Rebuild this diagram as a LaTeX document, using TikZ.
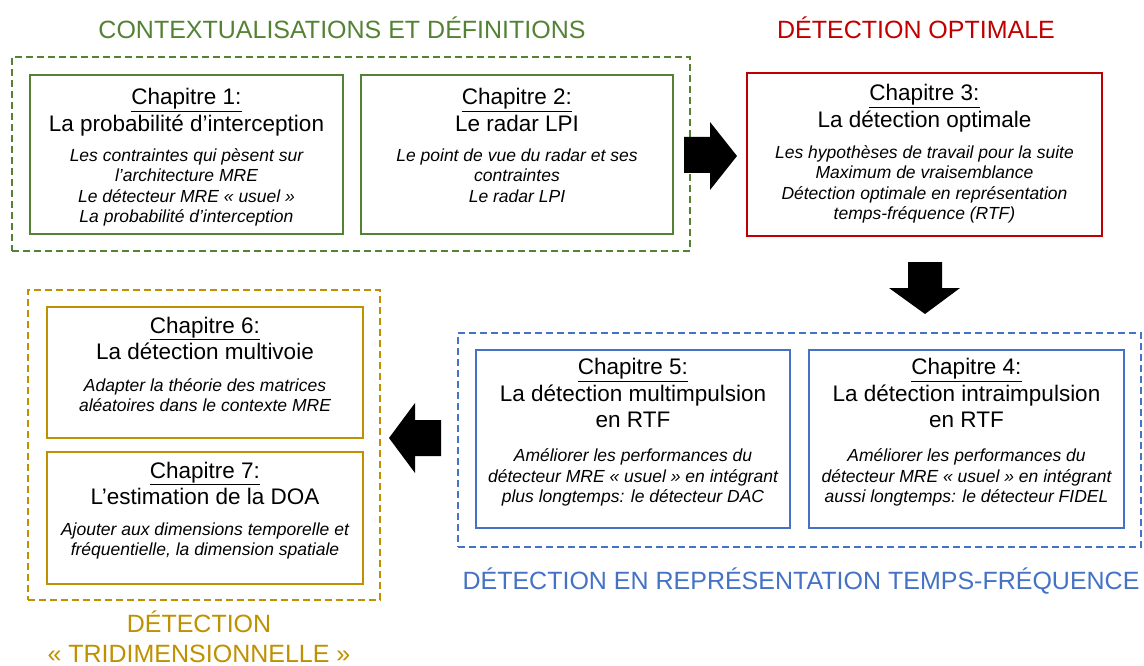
\documentclass[tikz,border=0pt]{standalone}
\usepackage{fontspec}
\setmainfont{Liberation Sans}
\definecolor{cgreen}{HTML}{548235}
\definecolor{cred}{HTML}{C00000}
\definecolor{cblue}{HTML}{4472C4}
\definecolor{cgold}{HTML}{BF9000}
\newcommand\mychap[4][13.5pt]{\centering\spaceskip=0pt\xspaceskip=0pt\fontsize{22.5}{26.5}\selectfont\underline{#2}\par #3\par\vspace{#1}\fontsize{17.5}{20.5}\selectfont\itshape #4\par}
\begin{document}
\begin{tikzpicture}[x=1pt,y=-1pt,
  chbox/.style={draw=#1, line width=2.6pt, rectangle, inner sep=0pt},
  grp/.style={draw=#1, line width=2.2pt, dash pattern=on 7pt off 4pt, rectangle, inner sep=0pt},
  txt/.style={align=center, inner sep=0pt, anchor=north},
  gtitle/.style={text=#1, inner sep=0pt, font=\fontsize{25}{30}\selectfont, align=center},
  blockarrow/.style={fill=black}]
\useasboundingbox (0,0) rectangle (1144,666);

% group frames
\node[grp=cgreen, minimum width=678pt, minimum height=194pt] (g1) at (351,154) {};
\node[grp=cblue, minimum width=683pt, minimum height=214pt] (g2) at (799.5,440) {};
\node[grp=cgold, minimum width=352pt, minimum height=310pt] (g3) at (204,445) {};

% group titles
\node[gtitle=cgreen] (t1) at (342,28) {CONTEXTUALISATIONS ET DÉFINITIONS};
\node[gtitle=cred] (t2) at (916,28) {DÉTECTION OPTIMALE};
\node[gtitle=cblue] (t3) at (801,581) {DÉTECTION EN REPRÉSENTATION TEMPS-FRÉQUENCE};
\node[gtitle=cgold, anchor=south] (t4) at (199,663) {DÉTECTION\\« TRIDIMENSIONNELLE »};

% chapter boxes
\node[chbox=cgreen, minimum width=313pt, minimum height=159pt] (c1) at (186.5,154.5) {};
\node[chbox=cgreen, minimum width=312pt, minimum height=159pt] (c2) at (517,154.5) {};
\node[chbox=cred, minimum width=355pt, minimum height=163pt] (c3) at (924.5,154.5) {};
\node[chbox=cblue, minimum width=314pt, minimum height=178pt] (c5) at (633,439) {};
\node[chbox=cblue, minimum width=315pt, minimum height=178pt] (c4) at (966.5,439) {};
\node[chbox=cgold, minimum width=316pt, minimum height=131pt] (c6) at (205,372.5) {};
\node[chbox=cgold, minimum width=316pt, minimum height=132pt] (c7) at (205,518) {};

% chapter texts
\node[txt, text width=309pt] (x1) at ([yshift=-14.5pt]c1.north) {\mychap[9.5pt]{Chapitre 1:}{La probabilité d’interception}{Les contraintes qui pèsent sur\\ l’architecture MRE\\ Le détecteur MRE «~usuel~»\\ La probabilité d’interception}};
\node[txt, text width=308pt] (x2) at ([yshift=-14.5pt]c2.north) {\mychap[9.5pt]{Chapitre 2:}{Le radar LPI}{Le point de vue du radar et ses\\ contraintes\\ Le radar LPI}};
\node[txt, text width=350pt] (x3) at ([yshift=-12.5pt]c3.north) {\mychap[10.5pt]{Chapitre 3:}{La détection optimale}{Les hypothèses de travail pour la suite\\ Maximum de vraisemblance\\ Détection optimale en représentation\\ temps-fréquence (RTF)}};
\node[txt, text width=310pt] (x5) at ([yshift=-9.5pt]c5.north) {\mychap{Chapitre 5:}{La détection multimpulsion\\ en RTF}{Améliorer les performances du\\ détecteur MRE «~usuel~» en intégrant\\ plus longtemps: le détecteur DAC}};
\node[txt, text width=311pt] (x4) at ([yshift=-9.5pt]c4.north) {\mychap{Chapitre 4:}{La détection intraimpulsion\\ en RTF}{Améliorer les performances du\\ détecteur MRE «~usuel~» en intégrant\\ aussi longtemps: le détecteur FIDEL}};
\node[txt, text width=312pt] (x6) at ([yshift=-11pt]c6.north) {\mychap[11pt]{Chapitre 6:}{La détection multivoie}{Adapter la théorie des matrices\\ aléatoires dans le contexte MRE}};
\node[txt, text width=312pt] (x7) at ([yshift=-11pt]c7.north) {\mychap[10pt]{Chapitre 7:}{L’estimation de la DOA}{Ajouter aux dimensions temporelle et\\ fréquentielle, la dimension spatiale}};

% block arrows
\fill[blockarrow] (684,137) -- (710,137) -- (710,122) -- (737,156) -- (710,190) -- (710,173) -- (684,173) -- cycle;
\fill[blockarrow] (908,262) -- (942,262) -- (942,288) -- (960,288) -- (925,314) -- (889,288) -- (908,288) -- cycle;
\fill[blockarrow] (441,420) -- (415,420) -- (415,403) -- (389,438) -- (415,473) -- (415,456) -- (441,456) -- cycle;
\end{tikzpicture}
\end{document}
